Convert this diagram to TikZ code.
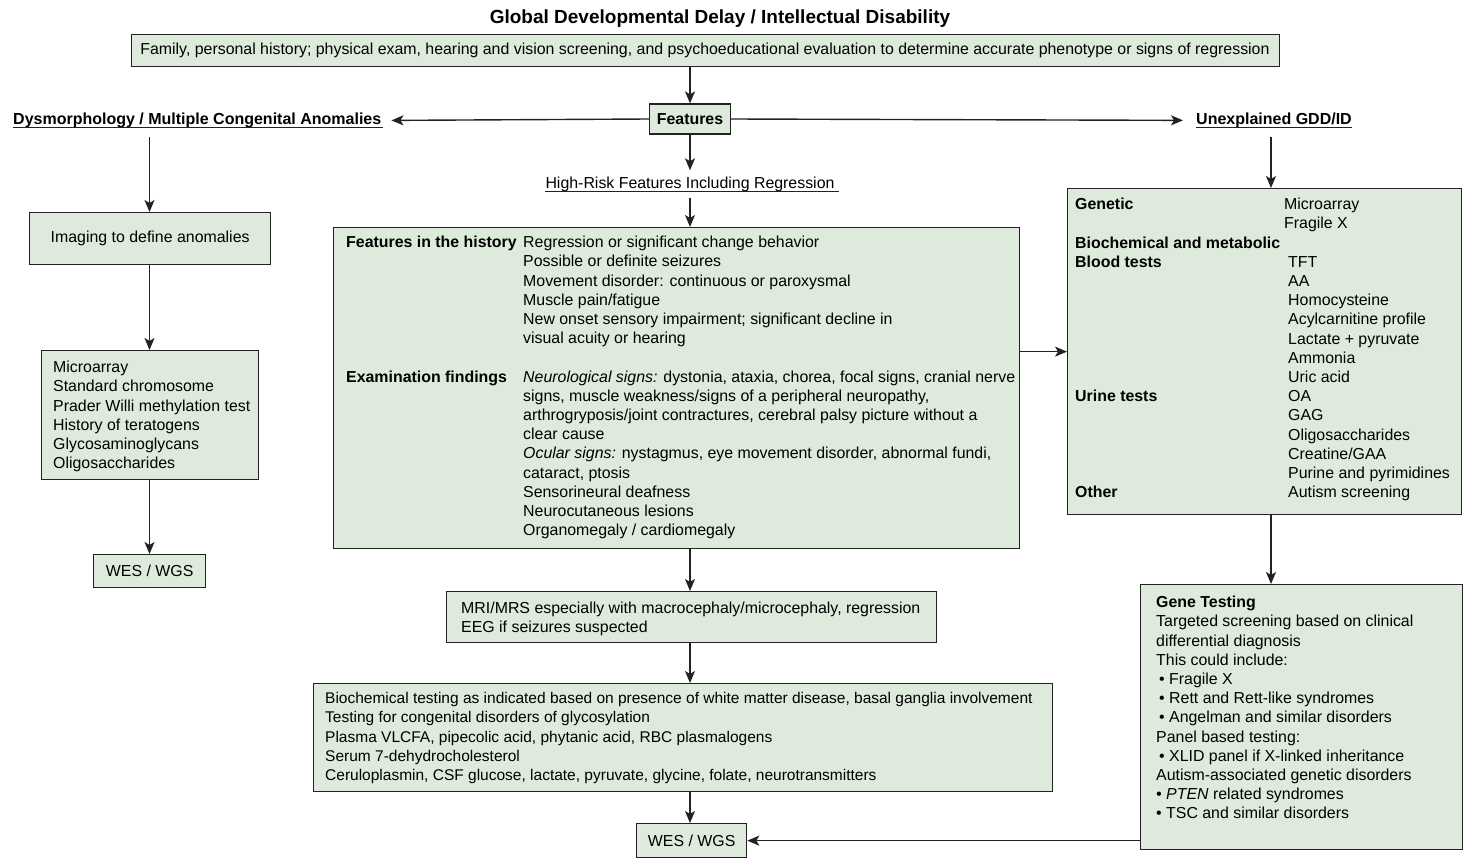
\documentclass[tikz,border=0pt]{standalone}
\usepackage{fontspec}
\setmainfont{Liberation Sans}
\usetikzlibrary{arrows.meta}
\definecolor{boxfill}{HTML}{DEEBDC}
\definecolor{edgecol}{HTML}{222222}
\newcommand\fs{\fontsize{15.9}{19.2}\selectfont}
\newcommand\mybox[5]{\node[box,anchor=north west,minimum width={#4-#2},minimum height={#5-#3}] (#1) at (#2,#3) {};}
\begin{document}
\begin{tikzpicture}[x=1pt,y=-1pt,
  box/.style={draw=edgecol,line width=1.3pt,fill=boxfill,rectangle,inner sep=0pt},
  txt/.style={inner sep=0pt,anchor=north west,font=\fs},
  lbl/.style={inner sep=0pt,font=\fs},
  arr/.style={-{Stealth[length=12pt,width=10pt,inset=3pt]},line width=1.4pt,draw=edgecol},
  uline/.style={line width=0.9pt,draw=edgecol}]
\useasboundingbox (0,0) rectangle (1467,859);
% title
\node[lbl,font=\fontsize{19}{22}\selectfont\bfseries] (title) at (720,19) {Global Developmental Delay / Intellectual Disability};
% top box
\mybox{top}{131}{34}{1279}{66}
\node[lbl] (toptxt) at (705,50) {Family, personal history; physical exam, hearing and vision screening, and psychoeducational evaluation to determine accurate phenotype or signs of regression};
% features
\node[box,minimum width=81,minimum height=30,font=\fs\bfseries] (feat) at (690,119) {Features};
% side labels
\node[lbl,anchor=base west,font=\fontsize{16}{19.2}\selectfont\bfseries] (dys) at (13,124.5) {Dysmorphology / Multiple Congenital Anomalies};
\draw[uline] ([yshift=-3pt]dys.base west) -- ([xshift=2pt,yshift=-3pt]dys.base east);
\node[lbl,anchor=base west,font=\fontsize{16}{19.2}\selectfont\bfseries] (unex) at (1196,124.5) {Unexplained GDD/ID};
\draw[uline] ([yshift=-3pt]unex.base west) -- ([yshift=-3pt]unex.base east);
\node[lbl,anchor=base,inner ysep=6pt] (hr) at (690,188) {High-Risk Features Including Regression};
\draw[uline] ([yshift=-3pt]hr.base west) -- ([xshift=4pt,yshift=-3pt]hr.base east);
% left column
\mybox{img}{29}{212}{270}{264}
\node[lbl] (imgtxt) at (img.center) {Imaging to define anomalies};
\mybox{micro}{41}{350}{258}{479}
\node[txt] (microtxt) at (53,359) {\begin{tabular}{@{}l@{}}Microarray\\Standard chromosome\\Prader Willi methylation test\\History of teratogens\\Glycosaminoglycans\\Oligosaccharides\end{tabular}};
\mybox{wesA}{93}{554}{205}{587}
\node[lbl] (wesAtxt) at (wesA.center) {WES / WGS};
% center column
\mybox{cbox}{333}{227}{1019}{548}
\node[txt] (ctxt) at (346,234) {\begin{tabular}{@{}l@{}}
\makebox[177pt][l]{\textbf{Features in the history}}Regression or significant change behavior\\
\hspace{177pt}Possible or definite seizures\\
\hspace{177pt}Movement disorder: continuous or paroxysmal\\
\hspace{177pt}Muscle pain/fatigue\\
\hspace{177pt}New onset sensory impairment; significant decline in\\
\hspace{177pt}visual acuity or hearing\\
\\
\makebox[177pt][l]{\textbf{Examination findings}}\textit{Neurological signs:} dystonia, ataxia, chorea, focal signs, cranial nerve\\
\hspace{177pt}signs, muscle weakness/signs of a peripheral neuropathy,\\
\hspace{177pt}arthrogryposis/joint contractures, cerebral palsy picture without a\\
\hspace{177pt}clear cause\\
\hspace{177pt}\textit{Ocular signs:} nystagmus, eye movement disorder, abnormal fundi,\\
\hspace{177pt}cataract, ptosis\\
\hspace{177pt}Sensorineural deafness\\
\hspace{177pt}Neurocutaneous lesions\\
\hspace{177pt}Organomegaly / cardiomegaly
\end{tabular}};
\mybox{mri}{446}{591}{936}{642}
\node[txt] (mritxt) at (461,600) {\begin{tabular}{@{}l@{}}MRI/MRS especially with macrocephaly/microcephaly, regression\\EEG if seizures suspected\end{tabular}};
\mybox{bio}{313}{683}{1052}{791}
\node[txt,font=\fontsize{15.5}{19.2}\selectfont] (biotxt) at (325,690) {\begin{tabular}{@{}l@{}}Biochemical testing as indicated based on presence of white matter disease, basal ganglia involvement\\Testing for congenital disorders of glycosylation\\Plasma VLCFA, pipecolic acid, phytanic acid, RBC plasmalogens\\Serum 7-dehydrocholesterol\\Ceruloplasmin, CSF glucose, lactate, pyruvate, glycine, folate, neurotransmitters\end{tabular}};
\mybox{wesB}{636}{823}{746}{857}
\node[lbl] (wesBtxt) at (wesB.center) {WES / WGS};
% right column
\mybox{rbox}{1067}{188}{1461}{514}
\node[txt] (rtxt) at (1075,196) {\begin{tabular}{@{}l@{}}
\makebox[209pt][l]{\textbf{Genetic}}Microarray\\
\hspace{209pt}Fragile X\\
\textbf{Biochemical and metabolic}\\
\makebox[213pt][l]{\textbf{Blood tests}}TFT\\
\hspace{213pt}AA\\
\hspace{213pt}Homocysteine\\
\hspace{213pt}Acylcarnitine profile\\
\hspace{213pt}Lactate + pyruvate\\
\hspace{213pt}Ammonia\\
\hspace{213pt}Uric acid\\
\makebox[213pt][l]{\textbf{Urine tests}}OA\\
\hspace{213pt}GAG\\
\hspace{213pt}Oligosaccharides\\
\hspace{213pt}Creatine/GAA\\
\hspace{213pt}Purine and pyrimidines\\
\makebox[213pt][l]{\textbf{Other}}Autism screening
\end{tabular}};
\mybox{gene}{1140}{584}{1462}{849}
\node[txt] (genetxt) at (1156,594) {\begin{tabular}{@{}l@{}}
\textbf{Gene Testing}\\
Targeted screening based on clinical\\
differential diagnosis\\
This could include:\\
\hspace{3pt}\textbullet\ Fragile X\\
\hspace{3pt}\textbullet\ Rett and Rett-like syndromes\\
\hspace{3pt}\textbullet\ Angelman and similar disorders\\
Panel based testing:\\
\hspace{3pt}\textbullet\ XLID panel if X-linked inheritance\\
Autism-associated genetic disorders\\
\textit{\textbullet\ PTEN} related syndromes\\
\textbullet\ TSC and similar disorders
\end{tabular}};
% connectors
\coordinate (cx) at (690,0);
\coordinate (lx) at (149.5,0);
\coordinate (rx) at (1271,0);
\coordinate (dysdown) at (149.5,137);
\coordinate (unexdown) at (1271,137);
\draw[arr] (cx |- top.south) -- (feat.north);
\draw[arr] (feat.west) -- ([xshift=10pt]dys.east);
\draw[arr] (feat.east) -- ([xshift=-13pt]unex.west);
\draw[arr] (feat.south) -- (cx |- hr.north);
\draw[arr] (cx |- hr.south) -- (cx |- cbox.north);
\draw[arr] (dysdown) -- (lx |- img.north);
\draw[arr] (lx |- img.south) -- (lx |- micro.north);
\draw[arr] (lx |- micro.south) -- (lx |- wesA.north);
\draw[arr] (unexdown) -- (unexdown |- rbox.north);
\draw[arr] (cbox.east |- rbox.west) -- (rbox.west);
\draw[arr] (rx |- rbox.south) -- (rx |- gene.north);
\draw[arr] (cx |- cbox.south) -- (cx |- mri.north);
\draw[arr] (cx |- mri.south) -- (cx |- bio.north);
\draw[arr] (cx |- bio.south) -- (cx |- wesB.north);
\draw[arr] (gene.west |- wesB.east) -- (wesB.east);
\end{tikzpicture}
\end{document}
